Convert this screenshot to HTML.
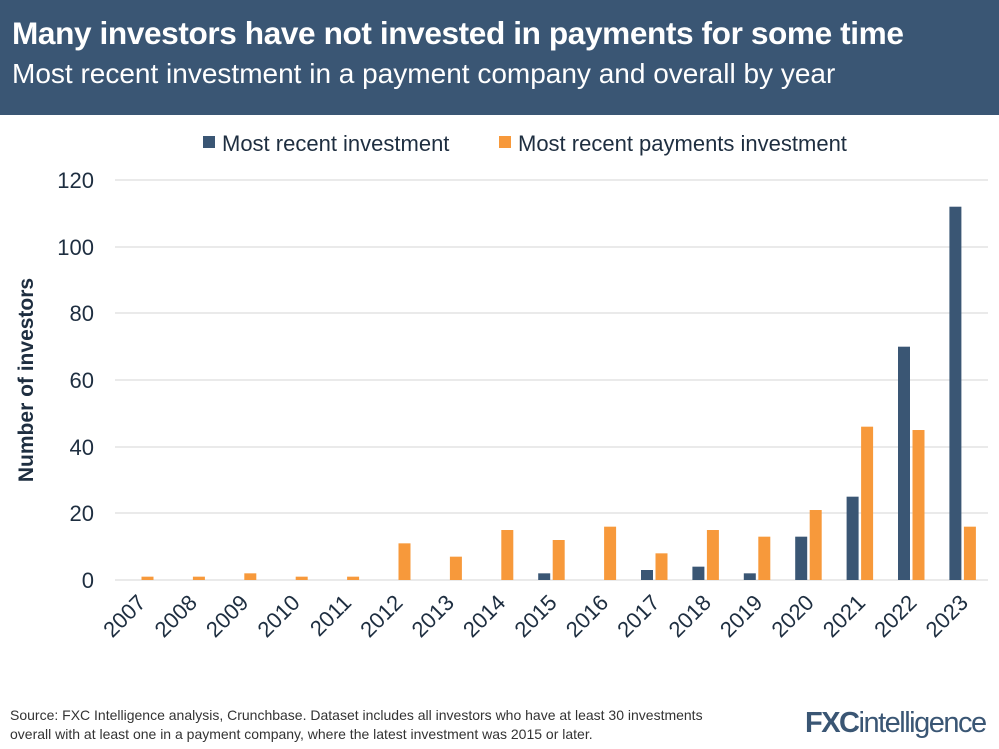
<!DOCTYPE html>
<html><head><meta charset="utf-8"><style>
body{margin:0;width:999px;height:749px;overflow:hidden;background:#fff;font-family:"Liberation Sans",sans-serif}
.hdr{position:absolute;left:0;top:0;width:999px;height:115px;background:#3a5674;color:#fff}
.t1{position:absolute;left:12px;top:15px;font-size:31.6px;font-weight:bold;letter-spacing:-0.4px}
.t2{position:absolute;left:12px;top:58px;font-size:28px}
</style></head><body>
<div class="hdr"><div class="t1">Many investors have not invested in payments for some time</div><div class="t2">Most recent investment in a payment company and overall by year</div></div>
<svg width="999" height="749" style="position:absolute;left:0;top:0" font-family="Liberation Sans, sans-serif">
<rect x="203" y="136" width="12" height="12" fill="#3a5674"/>
<text x="222" y="151" font-size="22" fill="#1e2e40">Most recent investment</text>
<rect x="499" y="136" width="12" height="12" fill="#f7993b"/>
<text x="518" y="151" font-size="22" fill="#1e2e40">Most recent payments investment</text>
<g stroke="#e3e3e3" stroke-width="1.5">
<line x1="115" x2="988" y1="180" y2="180"/><line x1="115" x2="988" y1="247" y2="247"/><line x1="115" x2="988" y1="313" y2="313"/><line x1="115" x2="988" y1="380" y2="380"/><line x1="115" x2="988" y1="447" y2="447"/><line x1="115" x2="988" y1="513" y2="513"/><line x1="115" x2="988" y1="580" y2="580"/>
</g>
<g font-size="22" fill="#1e2e40" text-anchor="end">
<text x="94" y="188">120</text><text x="94" y="255">100</text><text x="94" y="321">80</text><text x="94" y="388">60</text><text x="94" y="455">40</text><text x="94" y="521">20</text><text x="94" y="588">0</text>
</g>
<text transform="translate(33,380) rotate(-90)" font-size="21" font-weight="bold" fill="#1e2e40" text-anchor="middle">Number of investors</text>
<g id="bars"></g>
<g id="labs" font-size="22" fill="#1e2e40" text-anchor="end"></g>
<text x="10" y="720" font-size="14" fill="#333">Source: FXC Intelligence analysis, Crunchbase. Dataset includes all investors who have at least 30 investments</text>
<text x="10" y="739" font-size="14" fill="#333">overall with at least one in a payment company, where the latest investment was 2015 or later.</text>
<text x="805" y="732" font-size="29" font-weight="bold" fill="#3a5674" letter-spacing="-1.5">FXC<tspan font-weight="normal">intelligence</tspan></text>
</svg>
<script>
var n=[0,0,0,0,0,0,0,0,2,0,3,4,2,13,25,70,112],o=[1,1,2,1,1,11,7,15,12,16,8,15,13,21,46,45,16];
var b='',l='';
for(var i=0;i<17;i++){var c=140+i*51.4;
if(n[i])b+='<rect x="'+(c-13)+'" y="'+(580-n[i]*3.333)+'" width="12" height="'+(n[i]*3.333)+'" fill="#3a5674"/>';
b+='<rect x="'+(c+1.5)+'" y="'+(580-o[i]*3.333)+'" width="12" height="'+(o[i]*3.333)+'" fill="#f7993b"/>';
l+='<text transform="translate('+(c+7)+',604) rotate(-45)">'+(2007+i)+'</text>';}
document.getElementById('bars').innerHTML=b;document.getElementById('labs').innerHTML=l;
</script>
</body></html>
